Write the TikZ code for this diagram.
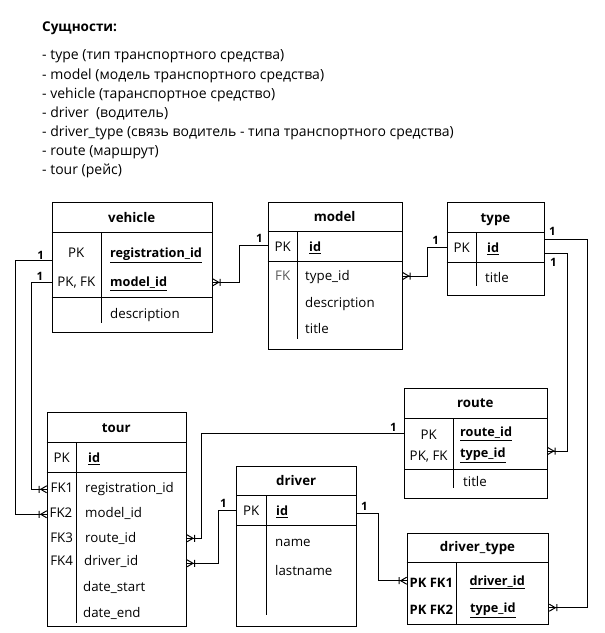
\documentclass[tikz,border=0pt]{standalone}
\usepackage{fontspec}
\setmainfont{Open Sans}
\usetikzlibrary{arrows.meta}

% "one or many" end: three prongs touching the entity plus a bar
\pgfdeclarearrow{
  name = crow,
  setup code = {
    \pgfarrowssettipend{0pt}
    \pgfarrowssetlineend{0pt}
    \pgfarrowssetvisualbackend{-8pt}
    \pgfarrowssetbackend{-8pt}
    \pgfarrowshullpoint{0pt}{3.5pt}
    \pgfarrowshullpoint{0pt}{-3.5pt}
    \pgfarrowshullpoint{-8pt}{3.5pt}
    \pgfarrowshullpoint{-8pt}{-3.5pt}
  },
  drawing code = {
    \pgfsetdash{}{0pt}
    \pgfpathmoveto{\pgfpoint{0pt}{3.5pt}}
    \pgfpathlineto{\pgfpoint{-6pt}{0pt}}
    \pgfpathlineto{\pgfpoint{0pt}{-3.5pt}}
    \pgfpathmoveto{\pgfpoint{-7.5pt}{3.5pt}}
    \pgfpathlineto{\pgfpoint{-7.5pt}{-3.5pt}}
    \pgfusepathqstroke
  }
}

\tikzset{
  tbl/.style={draw, line width=1pt, inner sep=0pt, anchor=north west},
  rule/.style={line width=1pt},
  txt/.style={inner sep=0pt, yshift=-2.5pt},
  hdr/.style={txt, font=\fontsize{13.3}{15}\selectfont\bfseries, anchor=mid},
  key/.style={txt, font=\fontsize{13.3}{15}\selectfont, anchor=mid},
  fld/.style={txt, font=\fontsize{13.3}{15}\selectfont, anchor=mid west},
  one/.style={txt, font=\fontsize{11.5}{12}\selectfont\bfseries, anchor=mid},
  rel/.style={line width=1pt, -crow},
  listitem/.style={inner sep=0pt, yshift=-3.5pt, font=\fontsize{14}{16}\selectfont, anchor=mid west},
}
% key fields: bold and underlined
\newcommand\pkf[1]{{\fontsize{12.7}{15}\selectfont\underline{\textbf{#1}}}}

\begin{document}
\begin{tikzpicture}[x=1pt, y=-1pt]
\useasboundingbox (0,0) rectangle (605,633);

% ---- list of entities
\node[listitem, font=\fontsize{13.5}{15}\selectfont\bfseries] (title) at (42,25) {Сущности:};
\node[listitem] (l1) at (42,53)  {- type (тип транспортного средства)};
\node[listitem] (l2) at (42,73)  {- model (модель транспортного средства)};
\node[listitem] (l3) at (42,92)  {- vehicle (таранспортное средство)};
\node[listitem] (l4) at (42,111) {- driver\ \ (водитель)};
\node[listitem] (l5) at (42,130) {- driver\_type (связь водитель - типа транспортного средства)};
\node[listitem] (l6) at (42,149) {- route (маршрут)};
\node[listitem] (l7) at (42,168) {- tour (рейс)};

% ---- vehicle
\node[tbl, minimum width=160pt, minimum height=129.4pt] (vehicle) at (51.7,202.3) {};
\draw[rule] (vehicle.west |- 0,232.3) -- (vehicle.east |- 0,232.3);
\draw[rule] (vehicle.west |- 0,297.3) -- (vehicle.east |- 0,297.3);
\draw[rule] (101,232.3) -- (101,323);
\node[hdr] (vehicle-h) at (131.7,217) {vehicle};
\node[key] (vehicle-k1) at (76.3,252.3) {PK};
\node[key] (vehicle-k2) at (76.3,281.7) {PK, FK};
\node[fld] (vehicle-f1) at (110,252.3) {\pkf{registration\_id}};
\node[fld] (vehicle-f2) at (110,281.7) {\pkf{model\_id}};
\node[fld] (vehicle-f3) at (110,313.3) {description};

% ---- model
\node[tbl, minimum width=134pt, minimum height=147.3pt] (model) at (267.7,201.7) {};
\draw[rule] (model.west |- 0,231) -- (model.east |- 0,231);
\draw[rule] (model.west |- 0,261) -- (model.east |- 0,261);
\draw[rule] (297.7,231) -- (297.7,339);
\node[hdr] (model-h) at (334.7,216) {model};
\node[key] (model-k1) at (282.7,246.7) {PK};
\node[key, text=black!65] (model-k2) at (282.7,275.7) {FK};
\node[fld] (model-f1) at (309,246.7) {\pkf{id}};
\node[fld] (model-f2) at (305,275.7) {type\_id};
\node[fld] (model-f3) at (305,302.3) {description};
\node[fld] (model-f4) at (305,328.3) {title};

% ---- type
\node[tbl, minimum width=97.6pt, minimum height=92.7pt] (type) at (446.7,202.3) {};
\draw[rule] (type.west |- 0,232.3) -- (type.east |- 0,232.3);
\draw[rule] (type.west |- 0,262.7) -- (type.east |- 0,262.7);
\draw[rule] (476.7,232.3) -- (476.7,285.7);
\node[hdr] (type-h) at (495.5,217) {type};
\node[key] (type-k1) at (461.7,247.3) {PK};
\node[fld] (type-f1) at (487,247.3) {\pkf{id}};
\node[fld] (type-f2) at (485,277.3) {title};

% ---- route
\node[tbl, minimum width=142.7pt, minimum height=110pt] (route) at (404,388.3) {};
\draw[rule] (route.west |- 0,418.3) -- (route.east |- 0,418.3);
\draw[rule] (route.west |- 0,469.3) -- (route.east |- 0,469.3);
\draw[rule] (453.3,418.3) -- (453.3,488.3);
\node[hdr] (route-h) at (475.3,402) {route};
\node[key] (route-k1) at (428.7,434) {PK};
\node[key] (route-k2) at (428.7,455.3) {PK, FK};
\node[fld] (route-f1) at (460,431.7) {\pkf{route\_id}};
\node[fld] (route-f2) at (460,452.7) {\pkf{type\_id}};
\node[fld] (route-f3) at (463,481) {title};

% ---- tour
\node[tbl, minimum width=139.3pt, minimum height=213.4pt] (tour) at (46.7,412.3) {};
\draw[rule] (tour.west |- 0,442.3) -- (tour.east |- 0,442.3);
\draw[rule] (tour.west |- 0,472.3) -- (tour.east |- 0,472.3);
\draw[rule] (76.7,442.3) -- (76.7,622.7);
\node[hdr] (tour-h) at (116.3,427) {tour};
\node[key] (tour-k1) at (61.7,457.3) {PK};
\node[key] (tour-k2) at (62,487.7) {FK1};
\node[key] (tour-k3) at (61,512.7) {FK2};
\node[key] (tour-k4) at (61.7,537.3) {FK3};
\node[key] (tour-k5) at (61.7,560) {FK4};
\node[fld] (tour-f1) at (88,457.3) {\pkf{id}};
\node[fld] (tour-f2) at (85,487.7) {registration\_id};
\node[fld] (tour-f3) at (85,512.7) {model\_id};
\node[fld] (tour-f4) at (85,537.3) {route\_id};
\node[fld] (tour-f5) at (84,560) {driver\_id};
\node[fld] (tour-f6) at (83,586) {date\_start};
\node[fld] (tour-f7) at (83,612.3) {date\_end};

% ---- driver
\node[tbl, minimum width=120.3pt, minimum height=160pt] (driver) at (236,465.7) {};
\draw[rule] (driver.west |- 0,495.7) -- (driver.east |- 0,495.7);
\draw[rule] (driver.west |- 0,525.7) -- (driver.east |- 0,525.7);
\draw[rule] (266.7,495.7) -- (266.7,615);
\node[hdr] (driver-h) at (296.2,480) {driver};
\node[key] (driver-k1) at (251.3,510.7) {PK};
\node[fld] (driver-f1) at (276,510.7) {\pkf{id}};
\node[fld] (driver-f2) at (275,541) {name};
\node[fld] (driver-f3) at (275,570.7) {lastname};

% ---- driver_type
\node[tbl, minimum width=141.6pt, minimum height=91.6pt] (dtype) at (406.7,532.7) {};
\draw[rule] (dtype.west |- 0,562.7) -- (dtype.east |- 0,562.7);
\draw[rule] (456,562.7) -- (456,624.3);
\node[hdr] (dtype-h) at (477.5,546.5) {driver\_type};
\node[key, font=\fontsize{13}{15}\selectfont\bfseries] (dtype-k1) at (431.3,582.7) {PK FK1};
\node[key, font=\fontsize{13}{15}\selectfont\bfseries] (dtype-k2) at (431.3,609.3) {PK FK2};
\node[fld] (dtype-f1) at (469.3,580) {\pkf{driver\_id}};
\node[fld] (dtype-f2) at (470,607.3) {\pkf{type\_id}};

% ---- relationships
\draw[rel] (vehicle.west |- 0,260.7) -- (15.7,260.7) |- (tour.west |- 0,514.3);
\draw[rel] (vehicle.west |- 0,282.3) -- (31,282.3) |- (tour.west |- 0,489.3);
\draw[rel] (model.west |- 0,245) -| (239.3,282.3) -- (vehicle.east |- 0,282.3);
\draw[rel] (type.west |- 0,247.7) -| (427.7,276) -- (model.east |- 0,276);
\draw[rel] (type.east |- 0,253.3) -| (567.3,451) -- (route.east |- 0,451);
\draw[rel] (type.east |- 0,239.3) -| (587.3,607.7) -- (dtype.east |- 0,607.7);
\draw[rel] (route.west |- 0,433.3) -| (201.7,538.3) -- (tour.east |- 0,538.3);
\draw[rel] (driver.west |- 0,510.7) -| (218.3,563.3) -- (tour.east |- 0,563.3);
\draw[rel] (driver.east |- 0,513.3) -| (378.3,580.7) -- (dtype.west |- 0,580.7);

% ---- cardinality marks
\node[one] (c1) at (40.7,254.5) {1};
\node[one] (c2) at (40,275) {1};
\node[one] (c3) at (259.3,237.7) {1};
\node[one] (c4) at (435.7,239.5) {1};
\node[one] (c5) at (552.5,230.5) {1};
\node[one] (c6) at (553.3,261.7) {1};
\node[one] (c7) at (393.3,426.7) {1};
\node[one] (c8) at (223.5,502.5) {1};
\node[one] (c9) at (364.5,505) {1};
\end{tikzpicture}
\end{document}
